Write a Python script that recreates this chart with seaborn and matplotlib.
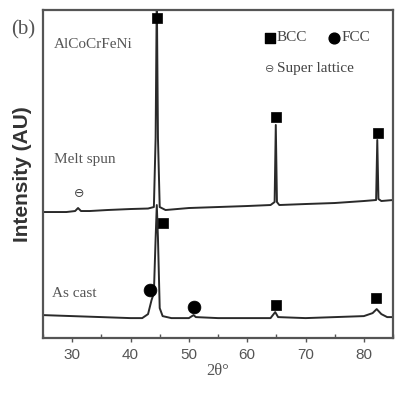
import numpy as np
import pandas as pd
import matplotlib
matplotlib.use("Agg")
import matplotlib.pyplot as plt
import seaborn as sns

# XRD traces (intensity in arbitrary units)
melt_tt = [25, 29, 30.5, 31.0, 31.5, 33, 36, 40, 43, 44.0, 44.3, 44.5, 44.7, 45.0,
           46, 50, 55, 60, 64, 64.7, 64.9, 65.1, 65.5, 70, 75, 80, 82.1, 82.3,
           82.5, 83, 85]
melt_int = [126, 126, 127, 130, 127, 127, 128, 129, 129.5, 131, 200, 345, 200, 131,
            128, 130, 131, 132, 133, 136, 213, 136, 133, 134, 135, 137, 138, 198,
            139, 137, 138]

cast_tt = [25, 30, 35, 40, 42, 43, 43.6, 44.0, 44.3, 44.5, 44.7, 45.0, 45.5, 47,
           50, 50.8, 51.2, 55, 60, 64, 64.8, 65.3, 70, 75, 80, 81.5, 82.2, 83,
           84, 85]
cast_int = [23, 22, 21, 20, 20, 24, 38, 45, 100, 133, 100, 30, 22, 20,
            20, 23, 21, 20, 20, 20, 26, 21, 20, 21, 22, 25, 29, 24,
            21, 21]

# phase markers
bcc_tt = [44.5, 64.9, 82.4, 45.5, 65.0, 82.0]
bcc_int = [320, 221, 205, 115, 33, 40]
fcc_tt = [43.3, 50.9]
fcc_int = [48, 31]
sl_tt = [31.2]
sl_int = [145]

sample_labels = ["AlCoCrFeNi", "Melt spun", "As cast"]
x_ticks = [30, 40, 50, 60, 70, 80]

sns.set_theme(style="ticks")
plt.rcParams['font.family'] = ['Liberation Serif', 'DejaVu Sans']

df = pd.concat([
    pd.DataFrame({"tt": melt_tt, "I": melt_int, "s": "melt"}),
    pd.DataFrame({"tt": cast_tt, "I": cast_int, "s": "cast"}),
])

fig = plt.figure(figsize=(3.95, 3.95), dpi=100)
ax = fig.add_axes([0.109, 0.144, 0.886, 0.831])

for name, sub in df.groupby("s", sort=False):
    sns.lineplot(data=sub, x="tt", y="I", ax=ax, color="#2a2a2a", lw=1.4,
                 sort=False, estimator=None, legend=False)

sns.scatterplot(x=bcc_tt, y=bcc_int, ax=ax, marker="s", s=60, color="black",
                edgecolor="black", linewidth=0.5, legend=False, zorder=5)
sns.scatterplot(x=fcc_tt, y=fcc_int, ax=ax, marker="o", s=85, color="black",
                edgecolor="black", linewidth=0.5, legend=False, zorder=5)
for x, y in zip(sl_tt, sl_int):
    ax.text(x, y, "\u2296", ha="center", va="center", fontsize=9,
            color="#444444", family=["DejaVu Sans"])

ax.set_xlim(25, 85)
ax.set_ylim(0, 328)
ax.set_xticks(x_ticks)
ax.set_xticklabels([str(t) for t in x_ticks], family="Liberation Sans",
                   fontsize=11, color="#555555")
ax.set_xticks(np.arange(25, 86, 10), minor=True)
ax.tick_params(axis="x", which="major", direction="out", length=3, width=1,
               color="#555555", pad=4)
ax.tick_params(axis="x", which="minor", direction="in", length=3, width=1,
               color="#555555")
ax.set_yticks([])
for sp in ax.spines.values():
    sp.set_visible(True)
    sp.set_color("#555555")
    sp.set_linewidth(1.6)

ax.set_xlabel("2\u03b8\u00b0", fontsize=12, color="#555555", labelpad=1)
ax.set_ylabel("Intensity (AU)", family="Liberation Sans", fontsize=15,
              fontweight="bold", color="#333333", labelpad=8)

# sample labels
ax.text(0.03, 0.895, sample_labels[0], transform=ax.transAxes, fontsize=11,
        color="#555555", va="center")
ax.text(0.03, 0.545, sample_labels[1], transform=ax.transAxes, fontsize=11,
        color="#555555", va="center")
ax.text(0.025, 0.137, sample_labels[2], transform=ax.transAxes, fontsize=11,
        color="#555555", va="center")

# phase key
ax.scatter([0.648], [0.915], transform=ax.transAxes, marker="s", s=45,
           color="black", clip_on=False)
ax.text(0.668, 0.915, "BCC", transform=ax.transAxes, fontsize=11,
        color="#444444", va="center")
ax.scatter([0.83], [0.915], transform=ax.transAxes, marker="o", s=60,
           color="black", clip_on=False)
ax.text(0.852, 0.915, "FCC", transform=ax.transAxes, fontsize=11,
        color="#444444", va="center")
ax.text(0.648, 0.82, "\u2296", transform=ax.transAxes, fontsize=8,
        color="#555555", va="center", ha="center", family=["DejaVu Sans"])
ax.text(0.668, 0.82, "Super lattice", transform=ax.transAxes, fontsize=11,
        color="#444444", va="center")

fig.text(0.058, 0.925, "(b)", fontsize=15, color="#555555", ha="center",
         va="center")

fig.savefig("out.png", dpi=100)
